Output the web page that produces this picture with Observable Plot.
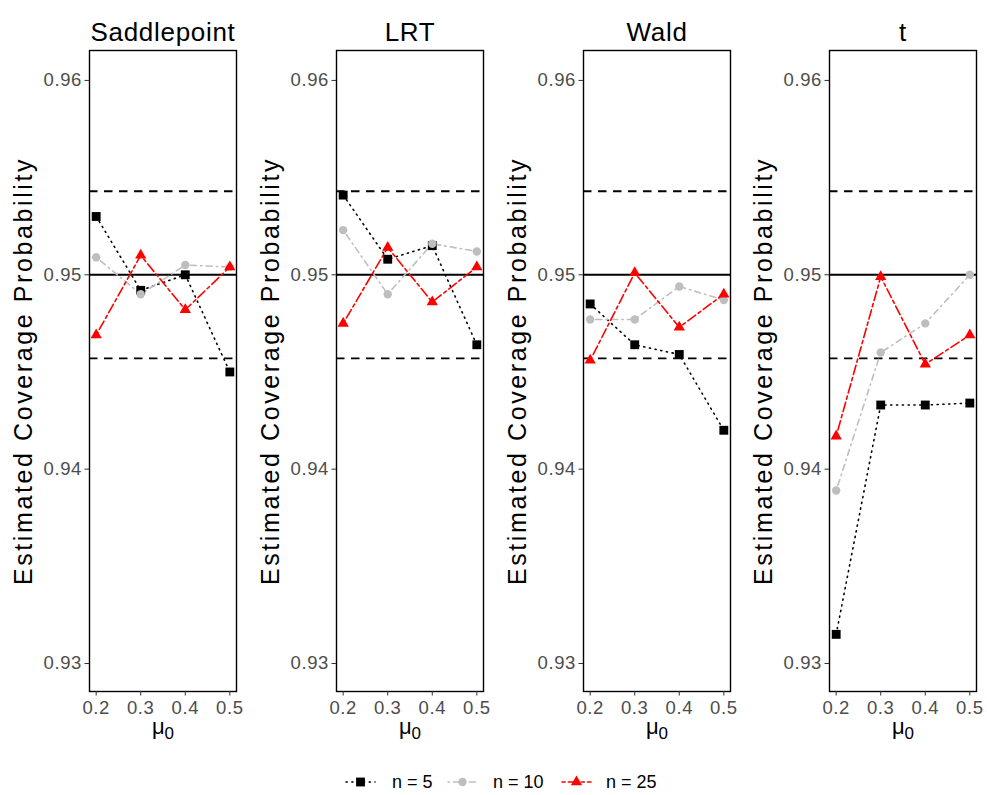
<!DOCTYPE html>
<html>
<head>
<meta charset="utf-8">
<script src="https://cdn.jsdelivr.net/npm/d3@7"></script>
<script src="https://cdn.jsdelivr.net/npm/@observablehq/plot@0.6"></script>
<style>
  html, body { margin: 0; padding: 0; background: white; }
  #wrap { width: 987px; height: 795px; position: relative; font-family: "Liberation Sans", Arial, sans-serif; }
  #row { display: flex; width: 987px; height: 750px; }
  #row > div { width: 246.75px; flex: none; }
  #legend { display: block; }
</style>
</head>
<body>
<div id="wrap">
  <div id="row"></div>
  <div id="legend"></div>
</div>
<script>
// ---- data ----
const mu0 = [0.2, 0.3, 0.4, 0.5];
const methods = ["Saddlepoint", "LRT", "Wald", "t"];
const sampleSizes = ["n = 5", "n = 10", "n = 25"];

const saddle_n5  = [0.9530, 0.9492, 0.9500, 0.9450];
const saddle_n10 = [0.9509, 0.9490, 0.9505, 0.9504];
const saddle_n25 = [0.9469, 0.9510, 0.9482, 0.9504];

const lrt_n5  = [0.9541, 0.9508, 0.9515, 0.9464];
const lrt_n10 = [0.9523, 0.9490, 0.9516, 0.9512];
const lrt_n25 = [0.9475, 0.9514, 0.9486, 0.9504];

const wald_n5  = [0.9485, 0.9464, 0.9459, 0.9420];
const wald_n10 = [0.9477, 0.9477, 0.9494, 0.9487];
const wald_n25 = [0.9456, 0.9501, 0.9473, 0.9490];

const t_n5  = [0.9315, 0.9433, 0.9433, 0.9434];
const t_n10 = [0.9389, 0.9460, 0.9475, 0.9500];
const t_n25 = [0.9417, 0.9499, 0.9454, 0.9469];

const nominal = [0.95];
const bounds = [0.9457, 0.9543];
const yTicks = [0.93, 0.94, 0.95, 0.96];
const yLabel = "Estimated Coverage Probability";
const xLabel = "μ0";

// ---- styles ----
const seriesStyle = {
  "n = 5":  {color: "black",   symbol: "square",   r: 5.0, dash: "1.2,4.6"},
  "n = 10": {color: "#BEBEBE", symbol: "circle",   r: 4.2, dash: "1.4,4.2,6,4.2"},
  "n = 25": {color: "red",     symbol: "triangle", r: 4.2, dash: "3.2,3.2,9.6,3.2"}
};

const seriesByMethod = {
  "Saddlepoint": [saddle_n5, saddle_n10, saddle_n25],
  "LRT": [lrt_n5, lrt_n10, lrt_n25],
  "Wald": [wald_n5, wald_n10, wald_n25],
  "t": [t_n5, t_n10, t_n25]
};

const rows = [];
for (const m of methods) {
  seriesByMethod[m].forEach((vals, i) => {
    vals.forEach((v, j) => rows.push({method: m, n: sampleSizes[i], mu: mu0[j], value: v}));
  });
}

const row = document.getElementById("row");
for (const m of methods) {
  const data = rows.filter(d => d.method === m);
  const marks = [
    Plot.ruleY(bounds, {stroke: "black", strokeWidth: 1.9, strokeDasharray: "8.5,6.5"}),
    Plot.ruleY(nominal, {stroke: "black", strokeWidth: 1.9})
  ];
  for (const n of sampleSizes) {
    const s = seriesStyle[n];
    const sd = data.filter(d => d.n === n);
    marks.push(Plot.line(sd, {x: "mu", y: "value", stroke: s.color, strokeWidth: 1.6, strokeDasharray: s.dash, strokeLinecap: "round"}));
  }
  for (const n of sampleSizes) {
    const s = seriesStyle[n];
    const sd = data.filter(d => d.n === n);
    marks.push(Plot.dot(sd, {x: "mu", y: "value", fill: s.color, stroke: "none", symbol: () => s.symbol, r: s.r}));
  }
  marks.push(
    Plot.frame({stroke: "black", strokeWidth: 1.4}),
    Plot.axisX({ticks: mu0, tickFormat: d3.format(".1f"), tickSize: 4.5, tickPadding: 5, fontSize: 18.5, label: null, stroke: "#333", fill: "#4d4d4d"}),
    Plot.axisY({ticks: yTicks, tickFormat: d3.format(".2f"), tickSize: 4.5, tickPadding: 3, fontSize: 18.5, label: null, stroke: "#333", fill: "#4d4d4d"}),
    Plot.text([m], {frameAnchor: "top", dy: -28, fontSize: 26, fill: "black"}),
    Plot.text([yLabel], {frameAnchor: "left", textAnchor: "middle", rotate: -90, dx: -66, fontSize: 25, fill: "black"}),
    Plot.text([xLabel], {frameAnchor: "bottom", dy: 42, fontSize: 22, fill: "black"})
  );
  const chart = Plot.plot({
    width: 246.75,
    height: 750,
    marginTop: 50,
    marginBottom: 59,
    marginLeft: 89,
    marginRight: 10.75,
    style: {fontFamily: "'Liberation Sans', Arial, sans-serif", background: "white", color: "#4d4d4d", overflow: "visible"},
    x: {domain: [0.185, 0.515]},
    y: {domain: [0.92856, 0.96154]},
    marks
  });
  const svg = d3.select(chart);
  // letter spacing to mimic the reference's wide text
  svg.selectAll("g[aria-label='x-axis tick label'] text, g[aria-label='y-axis tick label'] text")
    .style("letter-spacing", "0.6px");
  svg.selectAll("text").each(function() {
    const t = d3.select(this);
    if (this.textContent === m) t.style("letter-spacing", "0.7px");
    if (this.textContent === yLabel) t.style("letter-spacing", "2.6px");
    if (this.textContent === xLabel) {
      t.text(null);
      t.append("tspan").text("μ");
      t.append("tspan").attr("font-size", 17).attr("dy", "0.3em").text("0");
    }
  });
  const cell = document.createElement("div");
  cell.appendChild(chart);
  row.appendChild(cell);
}

// ---- legend ----
const legendItems = [
  {n: "n = 5",  keyX: 346, textX: 392},
  {n: "n = 10", keyX: 448, textX: 493},
  {n: "n = 25", keyX: 562, textX: 606}
];
const lsvg = d3.select("#legend").append("svg").attr("width", 987).attr("height", 45)
  .style("font-family", "'Liberation Sans', Arial, sans-serif");
const sym = {square: d3.symbolSquare, circle: d3.symbolCircle, triangle: d3.symbolTriangle};
for (const it of legendItems) {
  const s = seriesStyle[it.n];
  const cy = 32;
  lsvg.append("line").attr("x1", it.keyX).attr("x2", it.keyX + 29).attr("y1", cy).attr("y2", cy)
    .attr("stroke", s.color).attr("stroke-width", 1.6).attr("stroke-dasharray", s.dash).attr("stroke-linecap", "round");
  lsvg.append("path").attr("transform", `translate(${it.keyX + 14.5},${cy})`)
    .attr("d", d3.symbol(sym[s.symbol], Math.PI * s.r * s.r)()).attr("fill", s.color);
  lsvg.append("text").attr("x", it.textX).attr("y", cy).attr("dy", "0.35em")
    .attr("font-size", 18).attr("fill", "black").text(it.n);
}
</script>
</body>
</html>
